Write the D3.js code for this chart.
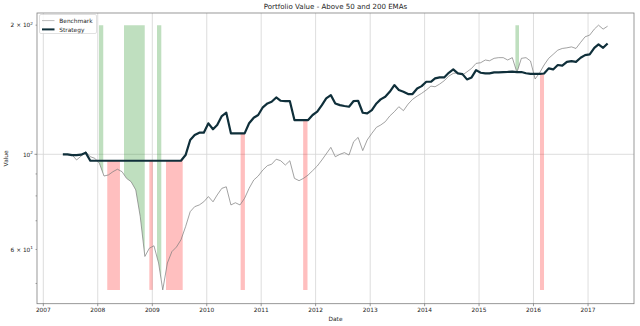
<!DOCTYPE html>
<html><head><meta charset="utf-8">
<script src="https://cdn.jsdelivr.net/npm/d3@7"></script>
<style>body{margin:0;background:#fff} text{font-family:"DejaVu Sans",sans-serif;fill:#262626}</style>
</head><body><svg id="c" width="640" height="326"></svg>
<script>
// ---- data ----
const firstMonth = [2007, 4, 12]; // monthly observations from May 2007
const benchmark = [
100,99.8,99.8,97.0,99.1,101.4,98.7,97.9,95.3,89.0,
89.5,91.1,92.3,91.1,87.9,86.3,82.6,71.6,57.8,60.4,
61.2,55.8,48.3,55.8,59.3,60.8,63.2,67.8,73.5,75.5,
76.2,77.5,79.7,77.5,80.4,83.3,84.0,76.2,77.1,76.2,
79.0,83.3,87.1,89.0,91.9,94.1,94.8,97.4,96.6,94.4,
96.6,87.9,86.8,87.9,89.5,91.6,93.9,97.0,100.2,103.8,
98.7,100.0,100.9,99.6,107.0,109.5,102.0,108.0,111.9,115.6,
117.0,119.1,122.8,125.7,129.1,126.4,130.9,134.3,136.7,138.7,
141.2,144.2,143.7,145.8,148.4,152.1,154.4,154.9,153.0,155.7,
158.6,162.9,163.5,165.9,165.2,167.4,168.0,168.0,165.9,168.0,
155.2,167.4,168.0,165.0,149.8,155.0,161.5,167.4,171.0,174.9,
176.5,177.1,178.0,176.5,182.3,187.9,189.6,195.8,200.0,195.8,
198.9];
const strategy = [
100,100,99.6,99.6,99.8,100.9,96.6,96.6,96.6,96.6,
96.6,96.6,96.6,96.6,96.6,96.6,96.6,96.6,96.6,96.6,
96.6,96.6,96.6,96.6,96.6,96.6,96.6,99.6,108.0,110.9,
112.3,112.3,118.1,114.4,117.0,122.8,125.0,111.9,111.9,111.9,
111.9,118.1,121.7,123.5,128.7,131.4,132.6,135.7,133.3,133.1,
133.1,120.2,120.2,120.2,120.2,123.5,125.7,130.2,135.0,137.4,
131.4,130.2,129.6,129.1,133.1,133.3,125.0,124.6,126.8,131.4,
134.3,136.2,139.9,145.0,141.2,139.9,138.2,138.2,142.4,144.2,
147.6,147.6,150.3,151.1,151.1,154.9,157.7,154.4,153.8,149.5,
151.1,157.1,154.9,154.4,154.4,155.2,155.3,155.5,155.6,155.8,
155.5,155.5,154.5,154.0,154.0,154.0,154.3,158.6,157.7,161.5,
160.9,164.3,164.9,164.3,167.9,170.3,171.0,177.1,180.4,177.1,
181.3];
// signal periods in decimal years
const buyPeriods = [[2008.022,2008.101],[2008.481,2008.861],[2009.086,2009.165],[2015.668,2015.734]];
const sellPeriods = [[2008.174,2008.407],[2008.945,2009.007],[2009.251,2009.558],[2010.622,2010.701],[2011.771,2011.851],[2016.119,2016.193]];
const xTickYears = [2007,2008,2009,2010,2011,2012,2013,2014,2015,2016,2017];
const yMajorTicks = [100];
const yMinorTicks = [50,60,70,80,90,200];
const yTickLabels = [{v:200, m:"2", e:"2"}, {v:100, m:"", e:"2"}, {v:60, m:"6", e:"1"}];
const xDomainYears = [2006.884, 2017.844];
const yDomain = [44.85, 213.5];

// ---- helpers ----
function dy(y){const Y=Math.floor(y);const a=new Date(Y,0,1),b=new Date(Y+1,0,1);return new Date(+a+(y-Y)*(b-a));}
const dates = benchmark.map((_,i)=>d3.timeMonth.offset(new Date(...firstMonth), i));
const rows = dates.map((d,i)=>({d, b:benchmark[i], s:strategy[i]}));

const svg = d3.select("#c");
const L=37, R=634, T=13, B=303.7;
const x = d3.scaleTime().domain(xDomainYears.map(dy)).range([L,R]);
const y = d3.scaleLog().domain(yDomain).range([B,T]);

function interp(arr, date){
  const i = d3.bisector(r=>r.d).left(rows, date);
  if(i<=0) return arr[0];
  if(i>=rows.length) return arr[rows.length-1];
  const d0=rows[i-1].d, d1=rows[i].d;
  const f=(date-d0)/(d1-d0);
  return arr[i-1]+(arr[i]-arr[i-1])*f;
}
function periodPoints(p){
  const a=dy(p[0]), b=dy(p[1]);
  const pts=[a, ...dates.filter(d=>d>a && d<b), b];
  return pts.map(d=>({d, b:interp(benchmark,d), s:interp(strategy,d)}));
}
const bMax = d3.max(benchmark), bMin = d3.min(benchmark);

// ---- grid ----
const g = svg.append("g");
g.selectAll(".vg").data(xTickYears).join("line")
  .attr("x1",d=>x(dy(d))).attr("x2",d=>x(dy(d))).attr("y1",T).attr("y2",B)
  .attr("stroke","#d4d4d4").attr("stroke-width",0.8);
g.selectAll(".hg").data(yMajorTicks).join("line")
  .attr("x1",L).attr("x2",R).attr("y1",d=>y(d)).attr("y2",d=>y(d))
  .attr("stroke","#d4d4d4").attr("stroke-width",0.8);

// ---- signal fills ----
const buyArea = d3.area().x(p=>x(p.d)).y0(p=>y(p.b)).y1(()=>y(bMax));
const sellArea = d3.area().x(p=>x(p.d)).y0(()=>y(bMin)).y1(p=>y(p.s));
svg.append("g").selectAll("path").data(buyPeriods).join("path")
  .attr("d",p=>buyArea(periodPoints(p))).attr("fill","#008000").attr("fill-opacity",0.25);
svg.append("g").selectAll("path").data(sellPeriods).join("path")
  .attr("d",p=>sellArea(periodPoints(p))).attr("fill","#ff0000").attr("fill-opacity",0.25);

// ---- lines ----
svg.append("path").datum(rows)
  .attr("d",d3.line().x(r=>x(r.d)).y(r=>y(r.b)))
  .attr("fill","none").attr("stroke","#7a7a7a").attr("stroke-width",0.7);
svg.append("path").datum(rows)
  .attr("d",d3.line().x(r=>x(r.d)).y(r=>y(r.s)))
  .attr("fill","none").attr("stroke","#0f2f3a").attr("stroke-width",2.2).attr("stroke-linejoin","round");

// ---- axes / spines ----
svg.append("rect").attr("x",L).attr("y",T).attr("width",R-L).attr("height",B-T)
  .attr("fill","none").attr("stroke","#7f7f7f").attr("stroke-width",0.8);
const xa = svg.append("g");
xa.selectAll("line").data(xTickYears).join("line")
  .attr("x1",d=>x(dy(d))).attr("x2",d=>x(dy(d))).attr("y1",B).attr("y2",B+2.5)
  .attr("stroke","#555").attr("stroke-width",0.6);
xa.selectAll("text").data(xTickYears).join("text")
  .attr("x",d=>x(dy(d))).attr("y",B+8.5).attr("text-anchor","middle")
  .attr("font-size",5.85).text(d=>d);
const ya = svg.append("g");
ya.selectAll(".mj").data(yMajorTicks).join("line")
  .attr("x1",L-2.5).attr("x2",L).attr("y1",d=>y(d)).attr("y2",d=>y(d))
  .attr("stroke","#555").attr("stroke-width",0.6);
ya.selectAll(".mn").data(yMinorTicks).join("line")
  .attr("x1",L-1.5).attr("x2",L).attr("y1",d=>y(d)).attr("y2",d=>y(d))
  .attr("stroke","#555").attr("stroke-width",0.5);
yTickLabels.forEach(t=>{
  const tx = ya.append("text").attr("x",L-4).attr("y",y(t.v)+2.2).attr("text-anchor","end").attr("font-size",5.85);
  tx.append("tspan").text((t.m? t.m+" \u00d7 " : "")+"10");
  tx.append("tspan").attr("dy",-2.3).attr("font-size",4.2).text(t.e);
});
svg.append("text").attr("x",(L+R)/2).attr("y",321).attr("text-anchor","middle").attr("font-size",5.85).text("Date");
svg.append("text").attr("transform",`translate(8,${(T+B)/2}) rotate(-90)`).attr("text-anchor","middle").attr("font-size",5.85).text("Value");
svg.append("text").attr("x",(L+R)/2).attr("y",9.2).attr("text-anchor","middle").attr("font-size",7.05).text("Portfolio Value - Above 50 and 200 EMAs");

// ---- legend ----
const lg = svg.append("g");
lg.append("rect").attr("x",39.5).attr("y",14.5).attr("width",57).attr("height",19).attr("rx",1.5)
  .attr("fill","#fff").attr("fill-opacity",0.85).attr("stroke","#cccccc").attr("stroke-width",0.6);
const items = [{name:"Benchmark", c:"#aaaaaa", w:0.8},{name:"Strategy", c:"#0f2f3a", w:2}];
items.forEach((it,i)=>{
  const yy = 20.6 + i*8.8;
  lg.append("line").attr("x1",42).attr("x2",54.5).attr("y1",yy).attr("y2",yy).attr("stroke",it.c).attr("stroke-width",it.w);
  lg.append("text").attr("x",59.3).attr("y",yy+2.1).attr("font-size",5.85).text(it.name);
});
</script></body></html>
